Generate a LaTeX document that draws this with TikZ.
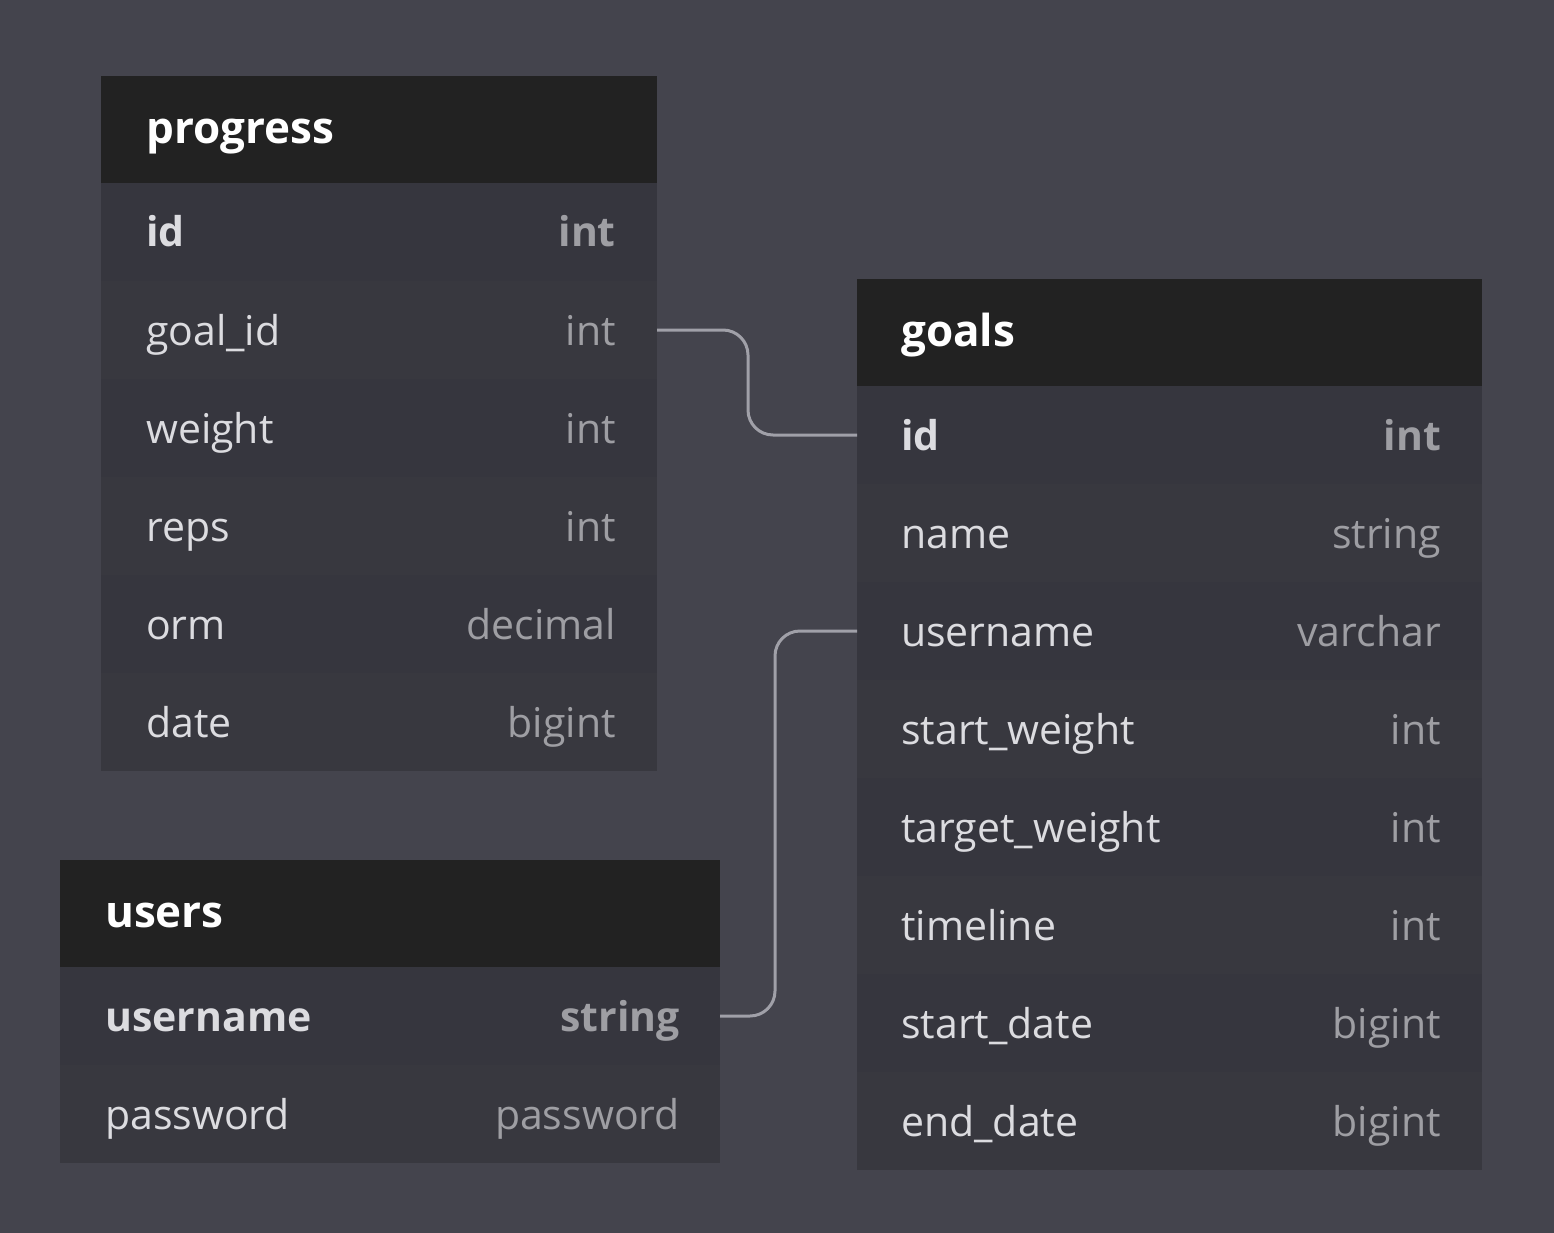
\documentclass[tikz,border=0pt]{standalone}
\usepackage{fontspec}
\setmainfont{Open Sans}
\usetikzlibrary{positioning}

\definecolor{bgcol}{HTML}{44444D}
\definecolor{hdrcol}{HTML}{222222}
\definecolor{rowa}{HTML}{36363E}
\definecolor{rowb}{HTML}{38383F}
\definecolor{namecol}{HTML}{DCDCE0}
\definecolor{typecol}{HTML}{9E9EA3}
\definecolor{linkcol}{HTML}{A0A0A8}

\tikzset{
  hdr/.style={fill=hdrcol, minimum height=107, inner sep=0, outer sep=0, anchor=north west},
  rowodd/.style={fill=rowa, minimum height=98, inner sep=0, outer sep=0},
  roweven/.style={fill=rowb, minimum height=98, inner sep=0, outer sep=0},
  title/.style={anchor=base west, inner sep=0, text=white, font=\fontsize{44}{52}\selectfont\bfseries},
  fname/.style={anchor=base west, inner sep=0, text=namecol, font=\fontsize{41}{48}\selectfont},
  ftype/.style={anchor=base east, inner sep=0, text=typecol, font=\fontsize{41}{48}\selectfont},
  fkey/.style={font=\fontsize{41}{48}\selectfont\bfseries},
  link/.style={draw=linkcol, line width=3pt, rounded corners=25}
}

\begin{document}
\begin{tikzpicture}[x=1pt,y=-1pt]
  \fill[bgcol] (0,0) rectangle (1554,1233); %background
  \useasboundingbox (0,0) rectangle (1554,1233);

  %Table progress
  \node[hdr, minimum width=556] (p0) at (101,76) {};
  \node[title] (p0t) at ([shift={(45,14)}]p0.west) {progress};
  \node[rowodd, minimum width=556, below=0pt of p0] (p1) {};
  \node[fname, fkey] (p1f) at ([shift={(45,15)}]p1.west) {id};
  \node[ftype, fkey] (p1t) at ([shift={(-41,15)}]p1.east) {int};
  \node[roweven, minimum width=556, below=0pt of p1] (p2) {};
  \node[fname] (p2f) at ([shift={(45,15)}]p2.west) {goal\_id};
  \node[ftype] (p2t) at ([shift={(-41,15)}]p2.east) {int};
  \node[rowodd, minimum width=556, below=0pt of p2] (p3) {};
  \node[fname] (p3f) at ([shift={(45,15)}]p3.west) {weight};
  \node[ftype] (p3t) at ([shift={(-41,15)}]p3.east) {int};
  \node[roweven, minimum width=556, below=0pt of p3] (p4) {};
  \node[fname] (p4f) at ([shift={(45,15)}]p4.west) {reps};
  \node[ftype] (p4t) at ([shift={(-41,15)}]p4.east) {int};
  \node[rowodd, minimum width=556, below=0pt of p4] (p5) {};
  \node[fname] (p5f) at ([shift={(45,15)}]p5.west) {orm};
  \node[ftype] (p5t) at ([shift={(-41,15)}]p5.east) {decimal};
  \node[roweven, minimum width=556, below=0pt of p5] (p6) {};
  \node[fname] (p6f) at ([shift={(45,15)}]p6.west) {date};
  \node[ftype] (p6t) at ([shift={(-41,15)}]p6.east) {bigint};

  %Table goals
  \node[hdr, minimum width=625] (g0) at (857,279) {};
  \node[title] (g0t) at ([shift={(44,14)}]g0.west) {goals};
  \node[rowodd, minimum width=625, below=0pt of g0] (g1) {};
  \node[fname, fkey] (g1f) at ([shift={(44,15)}]g1.west) {id};
  \node[ftype, fkey] (g1t) at ([shift={(-41,15)}]g1.east) {int};
  \node[roweven, minimum width=625, below=0pt of g1] (g2) {};
  \node[fname] (g2f) at ([shift={(44,15)}]g2.west) {name};
  \node[ftype] (g2t) at ([shift={(-41,15)}]g2.east) {string};
  \node[rowodd, minimum width=625, below=0pt of g2] (g3) {};
  \node[fname] (g3f) at ([shift={(44,15)}]g3.west) {username};
  \node[ftype] (g3t) at ([shift={(-41,15)}]g3.east) {varchar};
  \node[roweven, minimum width=625, below=0pt of g3] (g4) {};
  \node[fname] (g4f) at ([shift={(44,15)}]g4.west) {start\_weight};
  \node[ftype] (g4t) at ([shift={(-41,15)}]g4.east) {int};
  \node[rowodd, minimum width=625, below=0pt of g4] (g5) {};
  \node[fname] (g5f) at ([shift={(44,15)}]g5.west) {target\_weight};
  \node[ftype] (g5t) at ([shift={(-41,15)}]g5.east) {int};
  \node[roweven, minimum width=625, below=0pt of g5] (g6) {};
  \node[fname] (g6f) at ([shift={(44,15)}]g6.west) {timeline};
  \node[ftype] (g6t) at ([shift={(-41,15)}]g6.east) {int};
  \node[rowodd, minimum width=625, below=0pt of g6] (g7) {};
  \node[fname] (g7f) at ([shift={(44,15)}]g7.west) {start\_date};
  \node[ftype] (g7t) at ([shift={(-41,15)}]g7.east) {bigint};
  \node[roweven, minimum width=625, below=0pt of g7] (g8) {};
  \node[fname] (g8f) at ([shift={(44,15)}]g8.west) {end\_date};
  \node[ftype] (g8t) at ([shift={(-41,15)}]g8.east) {bigint};

  %Table users
  \node[hdr, minimum width=660] (u0) at (60,860) {};
  \node[title] (u0t) at ([shift={(45,14)}]u0.west) {users};
  \node[rowodd, minimum width=660, below=0pt of u0] (u1) {};
  \node[fname, fkey] (u1f) at ([shift={(45,15)}]u1.west) {username};
  \node[ftype, fkey] (u1t) at ([shift={(-40,15)}]u1.east) {string};
  \node[roweven, minimum width=660, below=0pt of u1] (u2) {};
  \node[fname] (u2f) at ([shift={(45,15)}]u2.west) {password};
  \node[ftype] (u2t) at ([shift={(-40,15)}]u2.east) {password};

  %Relations
  \draw[link] (p2.east) -- ++(91,0) |- (g1.west); %goal_id to id
  \draw[link] (u1.east) -- ++(55,0) |- (g3.west); %username to username
\end{tikzpicture}
\end{document}
